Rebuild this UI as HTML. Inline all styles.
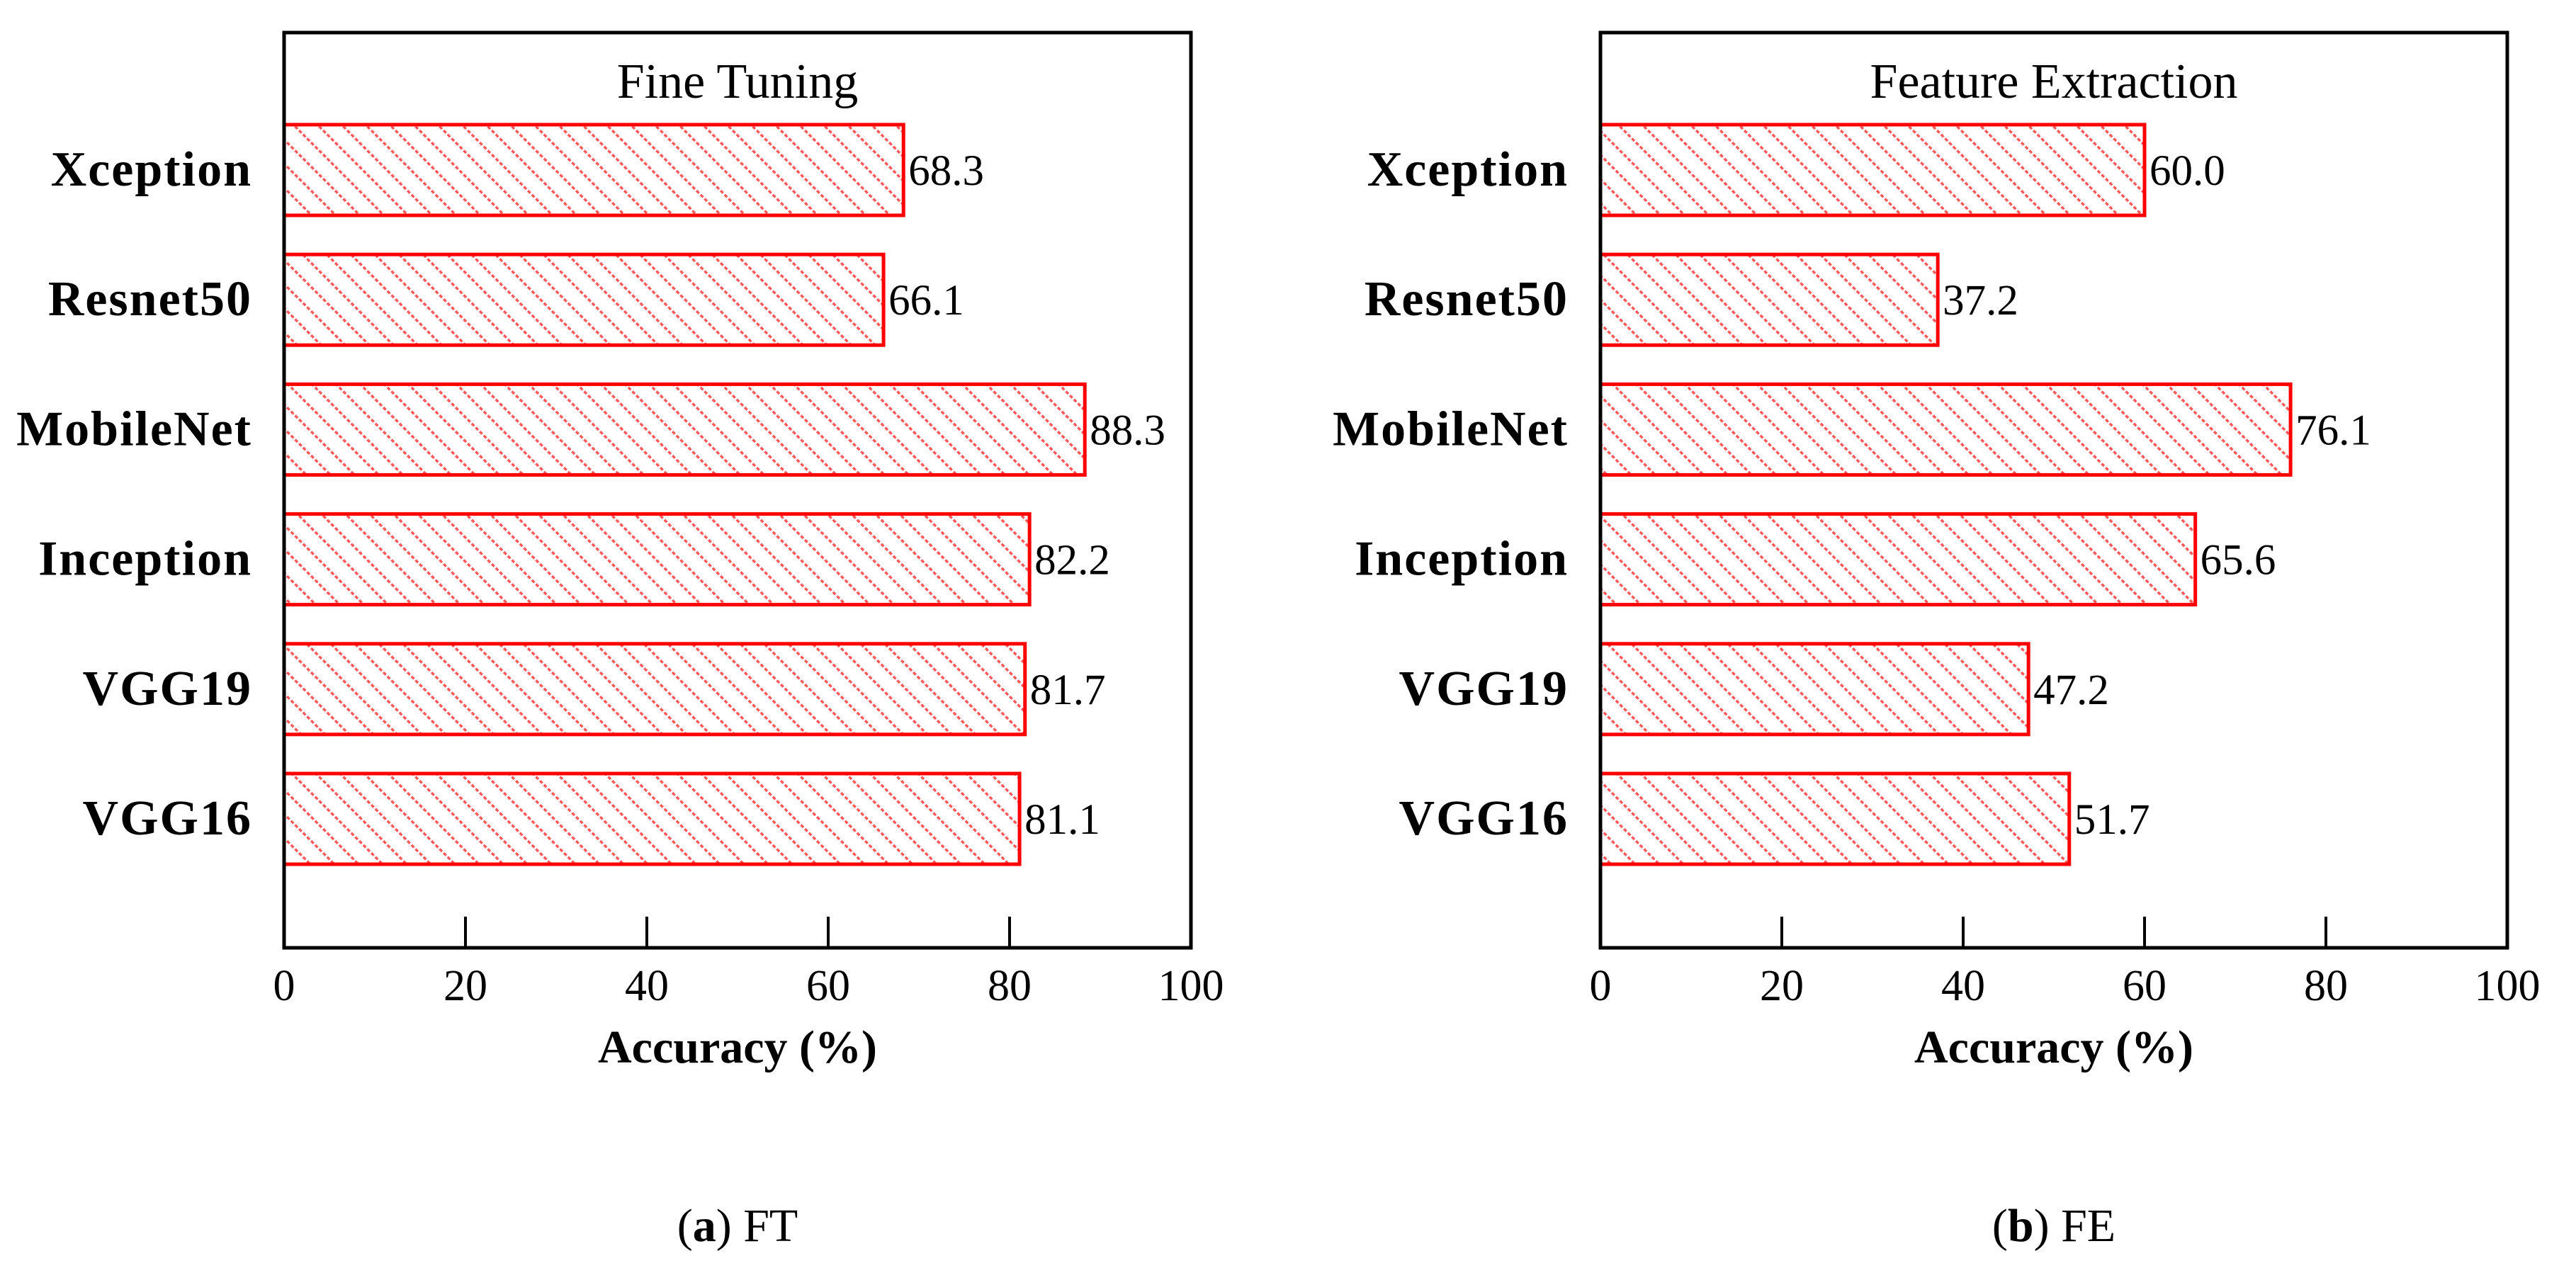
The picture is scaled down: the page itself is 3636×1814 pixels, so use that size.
<!DOCTYPE html>
<html><head><meta charset="utf-8"><style>
html,body{margin:0;padding:0;background:#fff;}
svg{display:block;font-family:"Liberation Serif",serif;}
</style></head><body>
<svg id="chart" width="3636" height="1814" viewBox="0 0 3636 1814" xmlns="http://www.w3.org/2000/svg">
<defs>
<pattern id="hatch" patternUnits="userSpaceOnUse" width="34" height="34">
<path d="M-8.5,-8.5 L42.5,42.5 M-42.5,-8.5 L8.5,42.5 M25.5,-8.5 L76.5,42.5" stroke="#ff5a5a" stroke-width="3.5" stroke-dasharray="5,3"/>
</pattern>
</defs>
</svg>
<script>
const categories = ["Xception","Resnet50","MobileNet","Inception","VGG19","VGG16"];
const ftValues = [68.3,66.1,88.3,82.2,81.7,81.1];
const feValues = [60.0,37.2,76.1,65.6,47.2,51.7];
const ftLabels = ["68.3","66.1","88.3","82.2","81.7","81.1"];
const feLabels = ["60.0","37.2","76.1","65.6","47.2","51.7"];
const xTicks = [0,20,40,60,80,100];
const panelTitles = ["Fine Tuning","Feature Extraction"];
const captions = [["a","FT"],["b","FE"]];

const NS = "http://www.w3.org/2000/svg";
const svg = document.getElementById('chart');
function mk(tag, attrs, parent){const e=document.createElementNS(NS,tag);for(const k in attrs)e.setAttribute(k,attrs[k]);(parent||svg).appendChild(e);return e;}

function panel(idx, x0, x1, values, labels){
  const top=46, bottom=1338;
  const g=mk('g',{});
  
  
  const xs=v=>x0+(v/100)*(x1-x0);
  const yc=i=>240+i*183.2;
  const bh=128;
  values.forEach((v,i)=>{
    const r=mk('rect',{x:x0,y:yc(i)-bh/2,width:xs(v)-x0,height:bh,fill:'url(#hatch)',stroke:'#ff0000','stroke-width':5},g);
    
    
    const t=mk('text',{x:xs(v)+7,y:yc(i)+21,'font-size':61,fill:'#000'},g);
    t.textContent=labels[i];
    
    
    const c=mk('text',{x:x0-45,y:yc(i)+22,'font-size':70,'font-weight':'bold','text-anchor':'end','letter-spacing':2,fill:'#000'},g);
    c.textContent=categories[i];
    
    
  });
  const f=mk('rect',{x:x0,y:top,width:x1-x0,height:bottom-top,fill:'none',stroke:'#000','stroke-width':5},g);
  
  
  xTicks.forEach(v=>{
    if(v>0&&v<100){
      const l=mk('line',{x1:xs(v),x2:xs(v),y1:bottom,y2:bottom-44,stroke:'#000','stroke-width':4},g);
      
      
    }
    const t=mk('text',{x:xs(v),y:1412,'font-size':62,'text-anchor':'middle',fill:'#000'},g);
    t.textContent=v;
    
    
  });
  const at=mk('text',{x:(x0+x1)/2,y:1500,'font-size':66,'font-weight':'bold','text-anchor':'middle',fill:'#000'},g);
  at.textContent='Accuracy (%)';
  
  
  const tt=mk('text',{x:(x0+x1)/2,y:138,'font-size':70,'text-anchor':'middle',fill:'#000'},g);
  tt.textContent=panelTitles[idx];
  
  
  const cap=mk('text',{x:(x0+x1)/2,y:1752,'font-size':66,'text-anchor':'middle',fill:'#000'},g);
  cap.innerHTML='(<tspan font-weight="bold">'+captions[idx][0]+'</tspan>) '+captions[idx][1];
  
  
}
panel(0,401,1681,ftValues,ftLabels);
panel(1,2259,3539,feValues,feLabels);
</script>
</body></html>
